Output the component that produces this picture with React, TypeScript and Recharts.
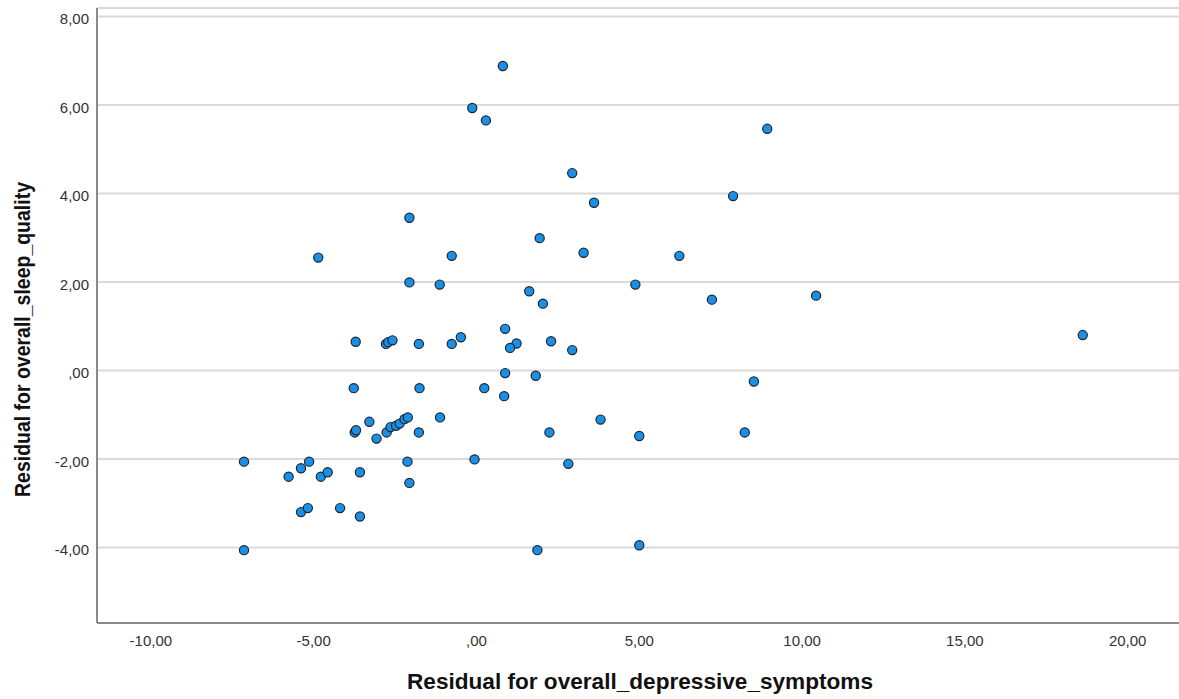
import React from "react";
import { ScatterChart, Scatter, XAxis, YAxis, CartesianGrid } from "recharts";

// Residual for overall_depressive_symptoms (x)
const residualDepressive = [
  0.81, -0.13, 0.29, 8.93, 2.94, 3.61, 7.88, -2.06, 1.94, 3.29,
  -0.76, 6.23, -4.86, -2.06, -1.13, 4.88, 1.62, 2.04, 7.23, 10.43,
  18.62, -3.71, -2.78, -2.71, -2.58, -1.77, -0.76, -0.48, 0.88, 1.23,
  1.03, 2.29, 2.94, 0.88, 1.82, 8.52, -3.77, -1.75, 0.24, 0.85,
  -1.12, 3.81, -3.29, -3.74, -3.7, -3.07, -2.76, -2.64, -2.47, -2.36,
  -2.21, -2.11, -1.77, 2.24, 5.0, 8.24, -0.06, 2.82, -2.12, -2.06,
  -7.14, -5.77, -5.39, -5.14, -4.78, -4.57, -3.58, -5.39, -5.18, -4.19,
  -3.58, -7.14, 1.87, 5.0,
];

// Residual for overall_sleep_quality (y)
const residualSleep = [
  6.88, 5.93, 5.65, 5.46, 4.46, 3.79, 3.94, 3.45, 2.99, 2.66,
  2.59, 2.59, 2.55, 1.99, 1.94, 1.94, 1.79, 1.51, 1.6, 1.69,
  0.8, 0.65, 0.6, 0.64, 0.68, 0.6, 0.6, 0.75, 0.94, 0.61,
  0.51, 0.66, 0.46, -0.06, -0.12, -0.25, -0.4, -0.4, -0.4, -0.58,
  -1.06, -1.11, -1.16, -1.4, -1.35, -1.54, -1.4, -1.28, -1.25, -1.2,
  -1.1, -1.06, -1.4, -1.4, -1.48, -1.4, -2.01, -2.11, -2.06, -2.54,
  -2.06, -2.4, -2.21, -2.06, -2.4, -2.3, -2.3, -3.2, -3.11, -3.11,
  -3.3, -4.06, -4.06, -3.95,
];

const xTicks = [-10, -5, 0, 5, 10, 15, 20];
const xTickLabels = ["-10,00", "-5,00", ",00", "5,00", "10,00", "15,00", "20,00"];
const yTicks = [-4, -2, 0, 2, 4, 6, 8];
const yTickLabels = ["-4,00", "-2,00", ",00", "2,00", "4,00", "6,00", "8,00"];

const xTitle = "Residual for overall_depressive_symptoms";
const yTitle = "Residual for overall_sleep_quality";

const data = residualDepressive.map((x, i) => ({ x, y: residualSleep[i] }));

const FONT = "'Liberation Sans', Arial, sans-serif";

const XTick = (props: any) => {
  const { x, y, payload } = props;
  const idx = xTicks.indexOf(payload.value);
  return (
    <text x={x} y={y + 23} textAnchor="middle" fontFamily={FONT} fontSize={15} fill="#333">
      {idx >= 0 ? xTickLabels[idx] : payload.value}
    </text>
  );
};

const YTick = (props: any) => {
  const { x, y, payload } = props;
  const idx = yTicks.indexOf(payload.value);
  return (
    <text x={x - 8} y={y + 8} textAnchor="end" fontFamily={FONT} fontSize={15} fill="#333">
      {idx >= 0 ? yTickLabels[idx] : payload.value}
    </text>
  );
};

const Dot = (props: any) => {
  const { cx, cy } = props;
  if (cx == null || cy == null) return null;
  return <circle cx={cx} cy={cy} r={4.6} fill="#1a8fe3" stroke="#1c2533" strokeWidth={1.2} />;
};

export default function App() {
  return (
    <div style={{ position: "absolute", left: 0, top: 0, width: 1179, height: 699, background: "#fff" }}>
      <ScatterChart width={1179} height={699} margin={{ top: 8, right: 0, bottom: 0, left: 0 }}>
        <CartesianGrid horizontal vertical={false} stroke="#dadada" strokeWidth={2} />
        <XAxis
          type="number"
          dataKey="x"
          domain={[-11.655, 21.576]}
          ticks={xTicks}
          allowDataOverflow
          height={76}
          tickSize={0}
          tickMargin={0}
          tickLine={false}
          axisLine={{ stroke: "#8a8a8a", strokeWidth: 2 }}
          tick={<XTick />}
          interval={0}
        />
        <YAxis
          type="number"
          dataKey="y"
          domain={[-5.706, 8.19]}
          ticks={yTicks}
          allowDataOverflow
          width={97}
          tickSize={0}
          tickMargin={0}
          tickLine={false}
          axisLine={{ stroke: "#8a8a8a", strokeWidth: 2 }}
          tick={<YTick />}
          interval={0}
        />
        <Scatter data={data} isAnimationActive={false} shape={<Dot />} />
      </ScatterChart>
      <svg
        width={1179}
        height={699}
        style={{ position: "absolute", left: 0, top: 0, pointerEvents: "none" }}
      >
        <text
          x={640}
          y={689}
          textAnchor="middle"
          fontFamily={FONT}
          fontWeight="bold"
          fontSize={22}
          fill="#111"
          textLength={466}
          lengthAdjust="spacingAndGlyphs"
        >
          {xTitle}
        </text>
        <text
          x={0}
          y={0}
          transform="translate(29.5,339.5) rotate(-90)"
          textAnchor="middle"
          fontFamily={FONT}
          fontWeight="bold"
          fontSize={22}
          fill="#111"
          textLength={315}
          lengthAdjust="spacingAndGlyphs"
        >
          {yTitle}
        </text>
      </svg>
    </div>
  );
}
